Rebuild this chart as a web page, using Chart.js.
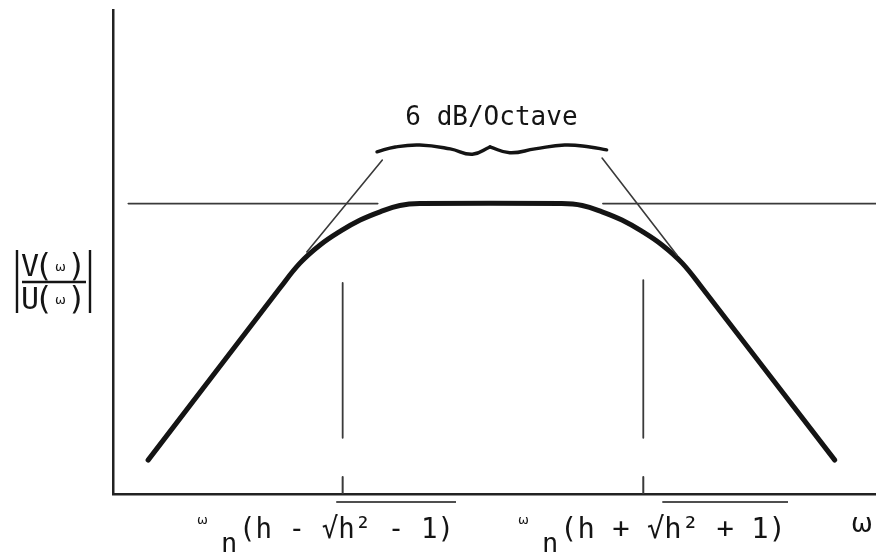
<!DOCTYPE html>
<html lang="en">
<head>
  <meta charset="UTF-8" />
  <title>Bandpass response</title>
  <style>
    body {
      margin: 0;
      background: #fff;
    }
    #wrap {
      width: 876px;
      height: 558px;
    }
  </style>
  <script src="https://cdn.jsdelivr.net/npm/chart.js"></script>
</head>
<body>

<div id="wrap">
  <canvas id="bodeChart" width="876" height="558"></canvas>
</div>

<script>
  // magnitude curve (normalised units, 0..100 on both axes)
  const curveX = [4.6, 21.9, 24.5, 27.1, 29.8, 32.4, 35.0, 37.6, 40.2,
                  58.8, 61.5, 64.1, 66.7, 69.3, 72.0, 74.6, 77.2, 94.6];
  const curveY = [7.0, 42.6, 47.7, 51.4, 54.3, 56.6, 58.3, 59.6, 60.0,
                  60.0, 59.6, 58.3, 56.6, 54.3, 51.4, 47.7, 42.6, 7.0];

  // asymptotes
  const flatLeftX = [2.0, 34.7];
  const flatRightX = [64.2, 100];
  const flatY = [60, 60];
  const riseX = [25.4, 35.3];
  const riseY = [50.0, 69.0];
  const fallX = [64.1, 73.9];
  const fallY = [69.4, 49.4];

  // corner frequencies
  const cornerX = [30.1, 69.5];
  const cornerTop = [43.6, 44.2];
  const cornerBottom = 11.6;
  const tickTop = 3.5;
  const cornerLabels = ['(h - √h² - 1)', '(h + √h² + 1)'];

  // brace over the slopes
  const braceLeftX = [34.6, 37.0, 40.2, 44.2, 47.1, 49.4];
  const braceLeftY = [70.7, 71.7, 72.1, 71.3, 70.2, 71.7];
  const braceRightX = [49.4, 52.0, 55.3, 59.2, 62.5, 64.7];
  const braceRightY = [71.7, 70.5, 71.3, 72.1, 71.7, 71.1];
  const slopeLabel = '6 dB/Octave';

  const zip = (xs, ys) => xs.map((x, i) => ({ x: x, y: Array.isArray(ys) ? ys[i] : ys }));

  const INK = '#141414';
  const THIN = '#3a3a3a';

  function line(data, color, width, tension) {
    return {
      data: data,
      showLine: true,
      borderColor: color,
      borderWidth: width,
      pointRadius: 0,
      tension: tension || 0,
      borderCapStyle: 'round',
      borderJoinStyle: 'round',
      fill: false
    };
  }

  const datasets = [
    line(zip(flatLeftX, flatY), THIN, 1.6),
    line(zip(flatRightX, flatY), THIN, 1.6),
    line(zip(riseX, riseY), THIN, 1.6),
    line(zip(fallX, fallY), THIN, 1.6),
    line(zip(braceLeftX, braceLeftY), INK, 3.4, 0.45),
    line(zip(braceRightX, braceRightY), INK, 3.4, 0.45)
  ];
  cornerX.forEach((cx, i) => {
    datasets.push(line(zip([cx, cx], [cornerTop[i], cornerBottom]), THIN, 1.8));
    datasets.push(line(zip([cx, cx], [0, tickTop]), THIN, 2));
  });
  datasets.push(line(zip(curveX, curveY), INK, 5, 0.4));

  // text drawn straight onto the canvas: slope note, axis labels
  const labelsPlugin = {
    id: 'labels',
    afterDraw(chart) {
      const ctx = chart.ctx;
      const x = chart.scales.x;
      const mono = '"DejaVu Sans Mono", monospace';
      ctx.save();
      ctx.fillStyle = INK;
      ctx.strokeStyle = INK;

      // slope note above the brace
      ctx.font = '26px ' + mono;
      ctx.textAlign = 'center';
      ctx.textBaseline = 'alphabetic';
      ctx.fillText(slopeLabel, x.getPixelForValue(49.6), 125);

      // corner frequency labels
      ctx.textAlign = 'left';
      const starts = [197, 518];
      const widths = [215, 226];
      cornerLabels.forEach((txt, i) => {
        const x0 = starts[i];
        ctx.font = '13px "DejaVu Sans"';
        ctx.fillText('ω', x0, 524);
        ctx.font = '27px ' + mono;
        ctx.fillText('n', x0 + 24, 552);
        ctx.font = '29px ' + mono;
        const tx = x0 + 42;
        ctx.fillText(txt, tx, 538, widths[i]);
        // vinculum over the root
        const full = ctx.measureText(txt).width;
        const k = Math.min(1, widths[i] / full);
        const pre = ctx.measureText(txt.slice(0, txt.indexOf('√') + 1)).width * k;
        ctx.lineWidth = 1.5;
        ctx.beginPath();
        ctx.moveTo(tx + pre - 2, 502);
        ctx.lineTo(tx + full * k + 2, 502);
        ctx.stroke();
      });

      // frequency axis name
      ctx.font = '26px "DejaVu Sans"';
      ctx.fillText('ω', 851, 532);

      // magnitude ratio on the vertical axis
      ctx.lineWidth = 2.4;
      ctx.beginPath();
      ctx.moveTo(17, 250); ctx.lineTo(17, 313);
      ctx.moveTo(90, 250); ctx.lineTo(90, 313);
      ctx.moveTo(22, 282); ctx.lineTo(86, 282);
      ctx.stroke();
      [['V', 276], ['U', 309]].forEach(([ch, base]) => {
        ctx.font = '30px ' + mono;
        ctx.fillText(ch, 21, base);
        ctx.font = '32px "DejaVu Sans"';
        ctx.fillText('(', 38, base);
        ctx.fillText(')', 70, base);
        ctx.font = '13px "DejaVu Sans"';
        ctx.fillText('ω', 55, base - 5);
      });

      ctx.restore();
    }
  };

  new Chart(document.getElementById('bodeChart'), {
    type: 'scatter',
    data: { datasets: datasets },
    options: {
      responsive: false,
      animation: false,
      layout: {
        padding: { left: 113, top: 10, right: 0, bottom: 64 }
      },
      plugins: {
        legend: { display: false },
        tooltip: { enabled: false }
      },
      scales: {
        x: {
          type: 'linear',
          min: 0,
          max: 100,
          ticks: { display: false },
          grid: { display: false, drawTicks: false },
          border: { display: true, color: '#222', width: 2.5 }
        },
        y: {
          type: 'linear',
          min: 0,
          max: 100,
          ticks: { display: false },
          grid: { display: false, drawTicks: false },
          border: { display: true, color: '#222', width: 2.5 }
        }
      }
    },
    plugins: [labelsPlugin]
  });
</script>

</body>
</html>
